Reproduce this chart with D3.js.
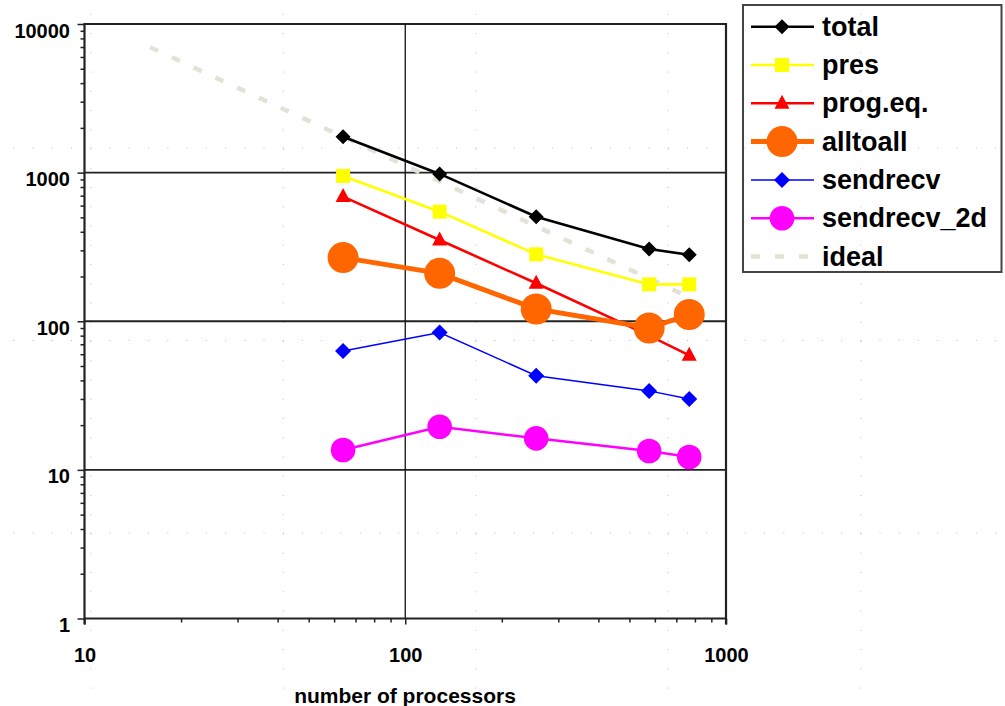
<!DOCTYPE html>
<html>
<head>
<meta charset="utf-8">
<script src="https://cdn.jsdelivr.net/npm/d3@7"></script>
<style>
  body { margin: 0; background: #fff; }
  svg { display: block; font-family: "Liberation Sans", Arial, sans-serif; font-weight: bold; }
  .tick text { font-family: "Liberation Sans", Arial, sans-serif; font-size: 20px; fill: #000; }
  .tick line { stroke: #222; stroke-width: 1.5; }
</style>
</head>
<body>
<div id="chart"></div>
<script>
const W = 1005, H = 706;
const X0 = 84.5, X1 = 726, Y0 = 618.5, Y1 = 24;

// data
const procs = [64, 128, 256, 576, 768];
const total = [1745, 980, 505, 306, 280];
const pres = [950, 546, 282, 177, 177];
const progEq = [690, 352, 180, 80, 59];
const alltoall = [268, 210, 121, 90, 111];
const sendrecv = [63, 84, 43, 34, 30];
const sendrecv2d = [13.6, 19.5, 16.3, 13.4, 12.2];
const idealProcs = [16, 32, 64, 128, 256, 576, 768];
const ideal = [6980, 3490, 1745, 872, 436, 194, 145];

const xTicks = [10, 100, 1000];
const yTicks = [1, 10, 100, 1000, 10000];

const series = [
    {name: 'total', x: procs, y: total, color: '#000', width: 2.6, marker: 'diamond', size: 7.5},
    {name: 'pres', x: procs, y: pres, color: '#ffff00', width: 2.6, marker: 'square', size: 7},
    {name: 'prog.eq.', x: procs, y: progEq, color: '#ff0000', width: 2.6, marker: 'triangle', size: 7.5},
    {name: 'alltoall', x: procs, y: alltoall, color: '#ff6600', width: 5, marker: 'circle', size: 15.5},
    {name: 'sendrecv', x: procs, y: sendrecv, color: '#0000ff', width: 1.5, marker: 'diamond', size: 8},
    {name: 'sendrecv_2d', x: procs, y: sendrecv2d, color: '#ff00ff', width: 2.5, marker: 'circle', size: 12.3},
    {name: 'ideal', x: idealProcs, y: ideal, color: '#e4e2d6', width: 4.5, marker: null, dash: '9,15'}
];

function markerPath(type, r) {
    if (type === 'diamond') return `M0,${-r}L${r},0L0,${r}L${-r},0Z`;
    if (type === 'square') return `M${-r},${-r}H${r}V${r}H${-r}Z`;
    if (type === 'triangle') return `M0,${-r - 1}L${r},${r - 2}L${-r},${r - 2}Z`;
    return d3.arc()({innerRadius: 0, outerRadius: r, startAngle: 0, endAngle: 2 * Math.PI});
}

const svg = d3.select('#chart').append('svg')
    .attr('width', W)
    .attr('height', H);

svg.append('rect').attr('width', W).attr('height', H).attr('fill', '#fff');

// faint dotted page grid behind everything
const dots = svg.append('g').attr('fill', '#bdbdbd');
const step = 19.25;
[90.8, 283.3, 475.8, 668.3, 860.8].forEach(gx => {
    d3.range(14.3 - step, H, step).forEach(gy => {
        dots.append('rect').attr('x', gx - 0.5).attr('y', gy - 0.5).attr('width', 1).attr('height', 1);
    });
});
[148, 340.5, 533].forEach(gy => {
    d3.range(90.8 - 4 * step, W, step).forEach(gx => {
        dots.append('rect').attr('x', gx - 0.5).attr('y', gy - 0.5).attr('width', 1).attr('height', 1);
    });
});

const x = d3.scaleLog().domain([10, 1000]).range([X0, X1]);
const y = d3.scaleLog().domain([1, 10000]).range([Y0, Y1]);

const minorX = [];
const minorY = [];
[10, 100].forEach(d => d3.range(2, 10).forEach(k => minorX.push(d * k)));
[1, 10, 100, 1000].forEach(d => d3.range(2, 10).forEach(k => minorY.push(d * k)));

// grid lines
const grid = svg.append('g');
yTicks.filter(v => v > 1).forEach(v => {
    grid.append('line')
        .attr('x1', X0).attr('x2', X1)
        .attr('y1', y(v)).attr('y2', y(v))
        .attr('stroke', '#222').attr('stroke-width', v === 10000 ? 2 : 1.8);
});
grid.append('line')
    .attr('x1', x(100)).attr('x2', x(100))
    .attr('y1', Y1).attr('y2', Y0)
    .attr('stroke', '#111').attr('stroke-width', 1.3);

// axes
const yAxis = svg.append('g')
    .attr('transform', `translate(${X0},0)`)
    .call(d3.axisLeft(y).tickValues(yTicks).tickSize(7).tickPadding(7.5)
        .tickFormat(d3.format('d')));
yAxis.selectAll('.tick text').attr('dy', '0.65em');

svg.append('g')
    .attr('transform', `translate(${X0},0)`)
    .call(d3.axisLeft(y).tickValues(minorY).tickSize(4).tickFormat(''));

const xAxis = svg.append('g')
    .attr('transform', `translate(0,${Y0})`)
    .call(d3.axisBottom(x).tickValues(xTicks).tickSize(6).tickFormat(d3.format('d')));
xAxis.selectAll('.tick text').attr('y', 29).attr('dy', '0.71em');

svg.append('g')
    .attr('transform', `translate(0,${Y0})`)
    .call(d3.axisBottom(x).tickValues(minorX).tickSize(4).tickFormat(''));

svg.selectAll('.domain').remove();

const frame = svg.append('g').attr('stroke', '#222').attr('stroke-width', 2.2);
frame.append('line').attr('x1', X0).attr('x2', X0).attr('y1', Y1 - 1).attr('y2', Y0 + 6);
frame.append('line').attr('x1', X0).attr('x2', X1).attr('y1', Y0).attr('y2', Y0);
frame.append('line').attr('x1', X1).attr('x2', X1).attr('y1', Y1 - 1).attr('y2', Y0 + 6);

svg.append('text')
    .attr('x', 405).attr('y', 703)
    .attr('text-anchor', 'middle')
    .attr('font-size', 21)
    .text('number of processors');

// series
const line = d3.line().x(d => x(d[0])).y(d => y(d[1]));
const drawOrder = [series[6]].concat(series.slice(0, 6));
drawOrder.forEach(s => {
    const pts = s.x.map((p, i) => [p, s.y[i]]);
    const g = svg.append('g');
    g.append('path')
        .datum(pts)
        .attr('d', line)
        .attr('fill', 'none')
        .attr('stroke', s.color)
        .attr('stroke-width', s.width)
        .attr('stroke-dasharray', s.dash || null);
    if (s.marker) {
        g.selectAll('path.m')
            .data(pts)
            .enter().append('path')
            .attr('class', 'm')
            .attr('d', markerPath(s.marker, s.size))
            .attr('transform', d => `translate(${x(d[0])},${y(d[1])})`)
            .attr('fill', s.color);
    }
});

// legend
const legend = svg.append('g');
legend.append('rect')
    .attr('x', 743).attr('y', 5)
    .attr('width', 258.5).attr('height', 267)
    .attr('fill', 'none')
    .attr('stroke', '#444')
    .attr('stroke-width', 2);

series.forEach((s, i) => {
    const cy = 26.7 + i * 38.3;
    const row = legend.append('g').attr('transform', `translate(0,${cy})`);
    row.append('line')
        .attr('x1', 751).attr('x2', 814)
        .attr('stroke', s.color)
        .attr('stroke-width', s.width)
        .attr('stroke-dasharray', s.dash || null);
    if (s.marker) {
        row.append('path')
            .attr('d', markerPath(s.marker, s.size))
            .attr('transform', 'translate(782,0)')
            .attr('fill', s.color);
    }
    row.append('text')
        .attr('x', 822).attr('y', 9)
        .attr('font-size', 27)
        .text(s.name);
});
</script>
</body>
</html>
